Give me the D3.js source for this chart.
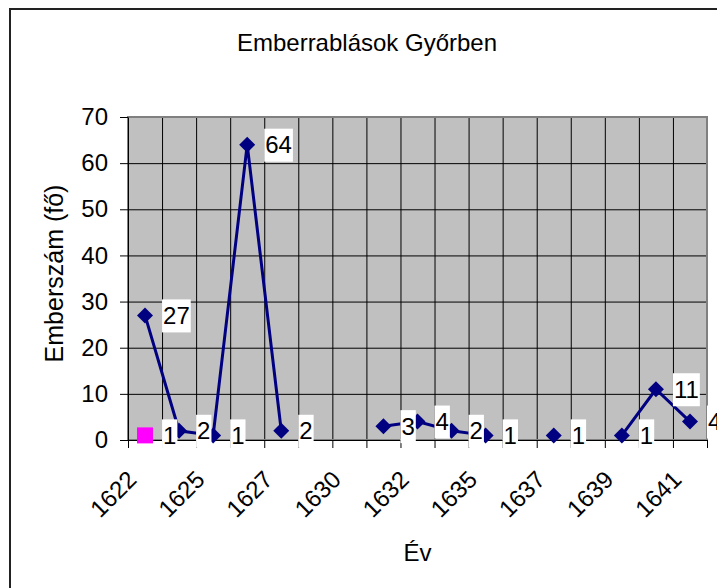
<!DOCTYPE html>
<html>
<head>
<meta charset="utf-8">
<script src="https://cdn.jsdelivr.net/npm/d3@7"></script>
<style>
  body { margin: 0; background: #fff; }
  svg { display: block; font-family: "Liberation Sans", Arial, sans-serif; }
  .axis path, .axis line { stroke: #000; }
  .axis text { font-size: 24px; fill: #000; }
</style>
</head>
<body>
<div id="chart"></div>
<script>
// categories (years) - only every second one has a visible label
let years = ["1622", "1624", "1625", "1626", "1627", "1628", "1630", "1631", "1632",
             "1633", "1635", "1636", "1637", "1638", "1639", "1640", "1641"];
let people = [27, 2, 1, 64, 2, null, null, 3, 4, 2, 1, null, 1, null, 1, 11, 4];
let second = [1, null, null, null, null, null, null, null, null, null, null, null, null, null, null, null, null];
let yTicks = [0, 10, 20, 30, 40, 50, 60, 70];

let W = 717, H = 588;
let margin = {top: 117, right: 10, bottom: 148, left: 128};
let width = W - margin.left - margin.right;
let height = H - margin.top - margin.bottom;

let svg = d3.select("#chart").append("svg")
    .attr("width", W)
    .attr("height", H);

// outer chart frame (runs off the right / bottom edge)
svg.append("rect")
    .attr("x", 10).attr("y", 9)
    .attr("width", 800).attr("height", 700)
    .attr("fill", "none")
    .attr("stroke", "#222")
    .attr("stroke-width", 2);

svg.append("text")
    .attr("x", 367).attr("y", 51)
    .attr("text-anchor", "middle")
    .style("font-size", "24px")
    .text("Emberrablások Győrben");

let g = svg.append("g")
    .attr("transform", "translate(" + margin.left + "," + margin.top + ")");

let x = d3.scaleBand().domain(years).range([0, width]);
let xi = d3.scaleLinear().domain([0, years.length]).range([0, width]);
let y = d3.scaleLinear().domain([0, 70]).range([height, 0]);

// plot background
g.append("rect")
    .attr("width", width).attr("height", height)
    .attr("fill", "#c0c0c0");

// vertical grid on category boundaries
g.append("g")
    .attr("class", "axis")
    .call(d3.axisBottom(xi).tickValues(d3.range(1, years.length)).tickSize(height).tickFormat(""))
    .call(a => a.select(".domain").remove());

// horizontal grid
g.append("g")
    .attr("class", "axis")
    .call(d3.axisLeft(y).tickValues(yTicks).tickSize(-width).tickFormat(""))
    .call(a => a.select(".domain").remove());

// plot border
g.append("rect")
    .attr("width", width).attr("height", height)
    .attr("fill", "none")
    .attr("stroke", "#808080")
    .attr("stroke-width", 2);

// y axis
g.append("g")
    .attr("class", "axis")
    .call(d3.axisLeft(y).tickValues(yTicks).tickSize(8).tickSizeOuter(0).tickPadding(12));

// x axis: tick marks on boundaries
g.append("g")
    .attr("class", "axis")
    .attr("transform", "translate(0," + height + ")")
    .call(d3.axisBottom(xi).tickValues(d3.range(0, years.length + 1)).tickSize(8).tickSizeOuter(0).tickFormat(""));

// x labels, rotated
g.append("g")
    .attr("class", "axis")
    .attr("transform", "translate(0," + height + ")")
    .call(d3.axisBottom(x).tickSize(0).tickFormat((d, i) => i % 2 === 0 ? d : ""))
    .call(a => a.select(".domain").remove())
    .selectAll("text")
    .attr("text-anchor", "end")
    .attr("dy", null)
    .attr("y", 0)
    .attr("transform", "translate(-7,41) rotate(-45)");

// axis titles
svg.append("text")
    .attr("x", margin.left + width / 2).attr("y", 561)
    .attr("text-anchor", "middle")
    .style("font-size", "24px")
    .text("Év");

svg.append("text")
    .attr("transform", "translate(63," + (margin.top + height / 2 - 5) + ") rotate(-90)")
    .attr("text-anchor", "middle")
    .style("font-size", "25px")
    .text("Emberszám (fő)");

let cx = (d, i) => x(years[i]) + x.bandwidth() / 2;

let line = d3.line()
    .defined(d => d != null)
    .x(cx)
    .y(d => y(d));

g.append("path")
    .datum(people)
    .attr("fill", "none")
    .attr("stroke", "#000080")
    .attr("stroke-width", 3)
    .attr("d", line);

let pts = people.map((v, i) => ({v: v, i: i})).filter(d => d.v != null);
let pts2 = second.map((v, i) => ({v: v, i: i})).filter(d => d.v != null);

g.selectAll(".dia")
    .data(pts)
    .enter().append("path")
    .attr("class", "dia")
    .attr("d", d3.symbol(d3.symbolSquare, 128))
    .attr("fill", "#000080")
    .attr("transform", d => "translate(" + cx(null, d.i) + "," + y(d.v) + ") rotate(45)");

g.selectAll(".sq")
    .data(pts2)
    .enter().append("path")
    .attr("class", "sq")
    .attr("d", d3.symbol(d3.symbolSquare, 256))
    .attr("fill", "#ff00ff")
    .attr("transform", d => "translate(" + cx(null, d.i) + "," + y(d.v) + ")");

// data labels with white boxes
let labels = g.selectAll(".lbl")
    .data(pts.concat(pts2))
    .enter().append("g")
    .attr("class", "lbl")
    .attr("transform", d => "translate(" + (cx(null, d.i) + 17) + "," + y(d.v) + ")");

labels.append("rect")
    .attr("fill", "#fff")
    .attr("y", -16)
    .attr("height", 33);

labels.append("text")
    .attr("x", 1)
    .attr("dy", "0.36em")
    .style("font-size", "24px")
    .text(d => d.v);

labels.each(function() {
    let t = d3.select(this).select("text").node().getComputedTextLength();
    d3.select(this).select("rect").attr("width", t + 2);
});
</script>
</body>
</html>
